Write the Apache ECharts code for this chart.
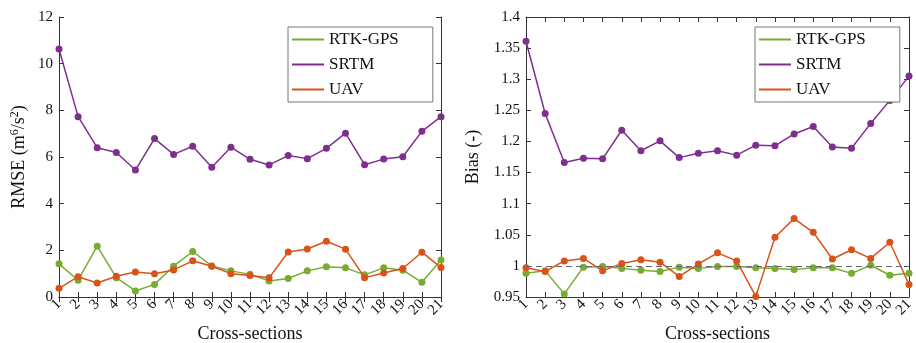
<!DOCTYPE html>
<html>
<head>
<meta charset="utf-8">
<script src="https://cdn.jsdelivr.net/npm/echarts@6/dist/echarts.min.js"></script>
<style>
  html, body { margin: 0; padding: 0; background: #fff; }
  #chart { width: 916px; height: 343px; }
</style>
</head>
<body>
<div id="chart"></div>
<script>
// cross-section ids
var sections = ['1','2','3','4','5','6','7','8','9','10','11','12','13','14','15','16','17','18','19','20','21'];

// RMSE (left panel)
var rmseRtk  = [1.42,0.72,2.18,0.83,0.26,0.54,1.32,1.95,1.33,1.12,0.97,0.69,0.79,1.12,1.30,1.25,0.95,1.25,1.15,0.63,1.59];
var rmseSrtm = [10.63,7.73,6.40,6.19,5.44,6.79,6.11,6.46,5.56,6.42,5.90,5.66,6.06,5.93,6.37,7.02,5.67,5.91,6.01,7.10,7.73];
var rmseUav  = [0.37,0.87,0.60,0.89,1.07,1.00,1.16,1.55,1.32,1.00,0.92,0.82,1.93,2.06,2.39,2.05,0.83,1.03,1.22,1.92,1.26];

// Bias (right panel)
var biasRtk  = [0.988,0.992,0.955,0.998,0.999,0.996,0.993,0.991,0.998,0.996,0.999,0.999,0.997,0.996,0.994,0.997,0.997,0.988,1.001,0.985,0.988];
var biasSrtm = [1.361,1.245,1.166,1.173,1.172,1.218,1.185,1.201,1.174,1.181,1.185,1.178,1.194,1.193,1.212,1.224,1.191,1.189,1.229,1.266,1.305];
var biasUav  = [0.997,0.991,1.008,1.012,0.992,1.004,1.010,1.006,0.983,1.003,1.021,1.008,0.951,1.046,1.076,1.054,1.011,1.026,1.012,1.038,0.970];

var names = ['RTK-GPS', 'SRTM', 'UAV'];
var colors = ['#77AC30', '#7E2F8E', '#D95319'];

var FONT = 'Liberation Serif';
var AX = '#333';

var chart = echarts.init(document.getElementById('chart'));

function xAx(grid, top) {
  return {
    type: 'category', gridIndex: grid, data: sections, boundaryGap: false,
    position: top ? 'top' : 'bottom',
    axisLine: { show: true, lineStyle: { color: AX, width: 1 } },
    axisTick: { show: true, inside: true, length: 5, alignWithLabel: true, lineStyle: { color: AX } },
    axisLabel: top ? { show: false } : {
      show: true, rotate: 45, interval: 0, margin: 5,
      fontFamily: FONT, fontSize: 15, color: '#111'
    },
    splitLine: { show: false },
    name: top ? '' : 'Cross-sections', nameLocation: 'middle', nameGap: 27,
    nameTextStyle: { fontFamily: FONT, fontSize: 18, color: '#111' }
  };
}

function yAx(grid, right, min, max, step, name, gap) {
  return {
    type: 'value', gridIndex: grid, min: min, max: max, interval: step,
    position: right ? 'right' : 'left',
    axisLine: { show: true, lineStyle: { color: AX, width: 1 } },
    axisTick: { show: true, inside: true, length: 5, lineStyle: { color: AX } },
    axisLabel: right ? { show: false } : {
      show: true, margin: 6, fontFamily: FONT, fontSize: 15, color: '#111',
      formatter: function (v) { return String(parseFloat(v.toFixed(2))); }
    },
    splitLine: { show: false },
    name: right ? '' : name, nameLocation: 'middle', nameGap: gap,
    nameTextStyle: {
      fontFamily: FONT, fontSize: 18, color: '#111',
      rich: { sup: { fontFamily: FONT, fontSize: 12, color: '#111', verticalAlign: 'top', padding: [0, 0, 8, 0] } }
    }
  };
}

function mkSeries(name, data, idx, axis) {
  return {
    name: name, type: 'line', data: data,
    xAxisIndex: axis, yAxisIndex: axis,
    symbol: 'circle', symbolSize: 7,
    lineStyle: { color: colors[idx], width: 1.5 },
    itemStyle: { color: colors[idx] },
    animation: false, z: 2 + idx
  };
}

function legend(left) {
  return {
    data: names, orient: 'vertical', left: left, top: 27,
    icon: 'rect', itemWidth: 32, itemHeight: 2, itemGap: 8,
    padding: [4, 34, 4, 4],
    backgroundColor: '#fff', borderColor: '#777', borderWidth: 1,
    textStyle: { fontFamily: FONT, fontSize: 17, color: '#111', lineHeight: 17 }
  };
}

var rtkBias = mkSeries(names[0], biasRtk, 0, 2);
rtkBias.markLine = {
  silent: true, symbol: ['none', 'none'], label: { show: false },
  lineStyle: { color: '#666', type: [6, 4], width: 1.2 },
  data: [{ yAxis: 1 }]
};

chart.setOption({
  backgroundColor: '#fff',
  animation: false,
  grid: [
    { left: 59, right: 475, top: 17, bottom: 46, outerBoundsMode: 'none' },
    { left: 526, right: 7, top: 17, bottom: 46, outerBoundsMode: 'none' }
  ],
  xAxis: [xAx(0, false), xAx(0, true), xAx(1, false), xAx(1, true)],
  yAxis: [
    yAx(0, false, 0, 12, 2, 'RMSE (m{sup|6}/s{sup|2})', 30),
    yAx(0, true, 0, 12, 2, '', 0),
    yAx(1, false, 0.95, 1.4, 0.05, 'Bias (-)', 44),
    yAx(1, true, 0.95, 1.4, 0.05, '', 0)
  ],
  legend: [legend(288), legend(755)],
  series: [
    mkSeries(names[0], rmseRtk, 0, 0),
    mkSeries(names[1], rmseSrtm, 1, 0),
    mkSeries(names[2], rmseUav, 2, 0),
    rtkBias,
    mkSeries(names[1], biasSrtm, 1, 2),
    mkSeries(names[2], biasUav, 2, 2)
  ]
});
</script>
</body>
</html>
